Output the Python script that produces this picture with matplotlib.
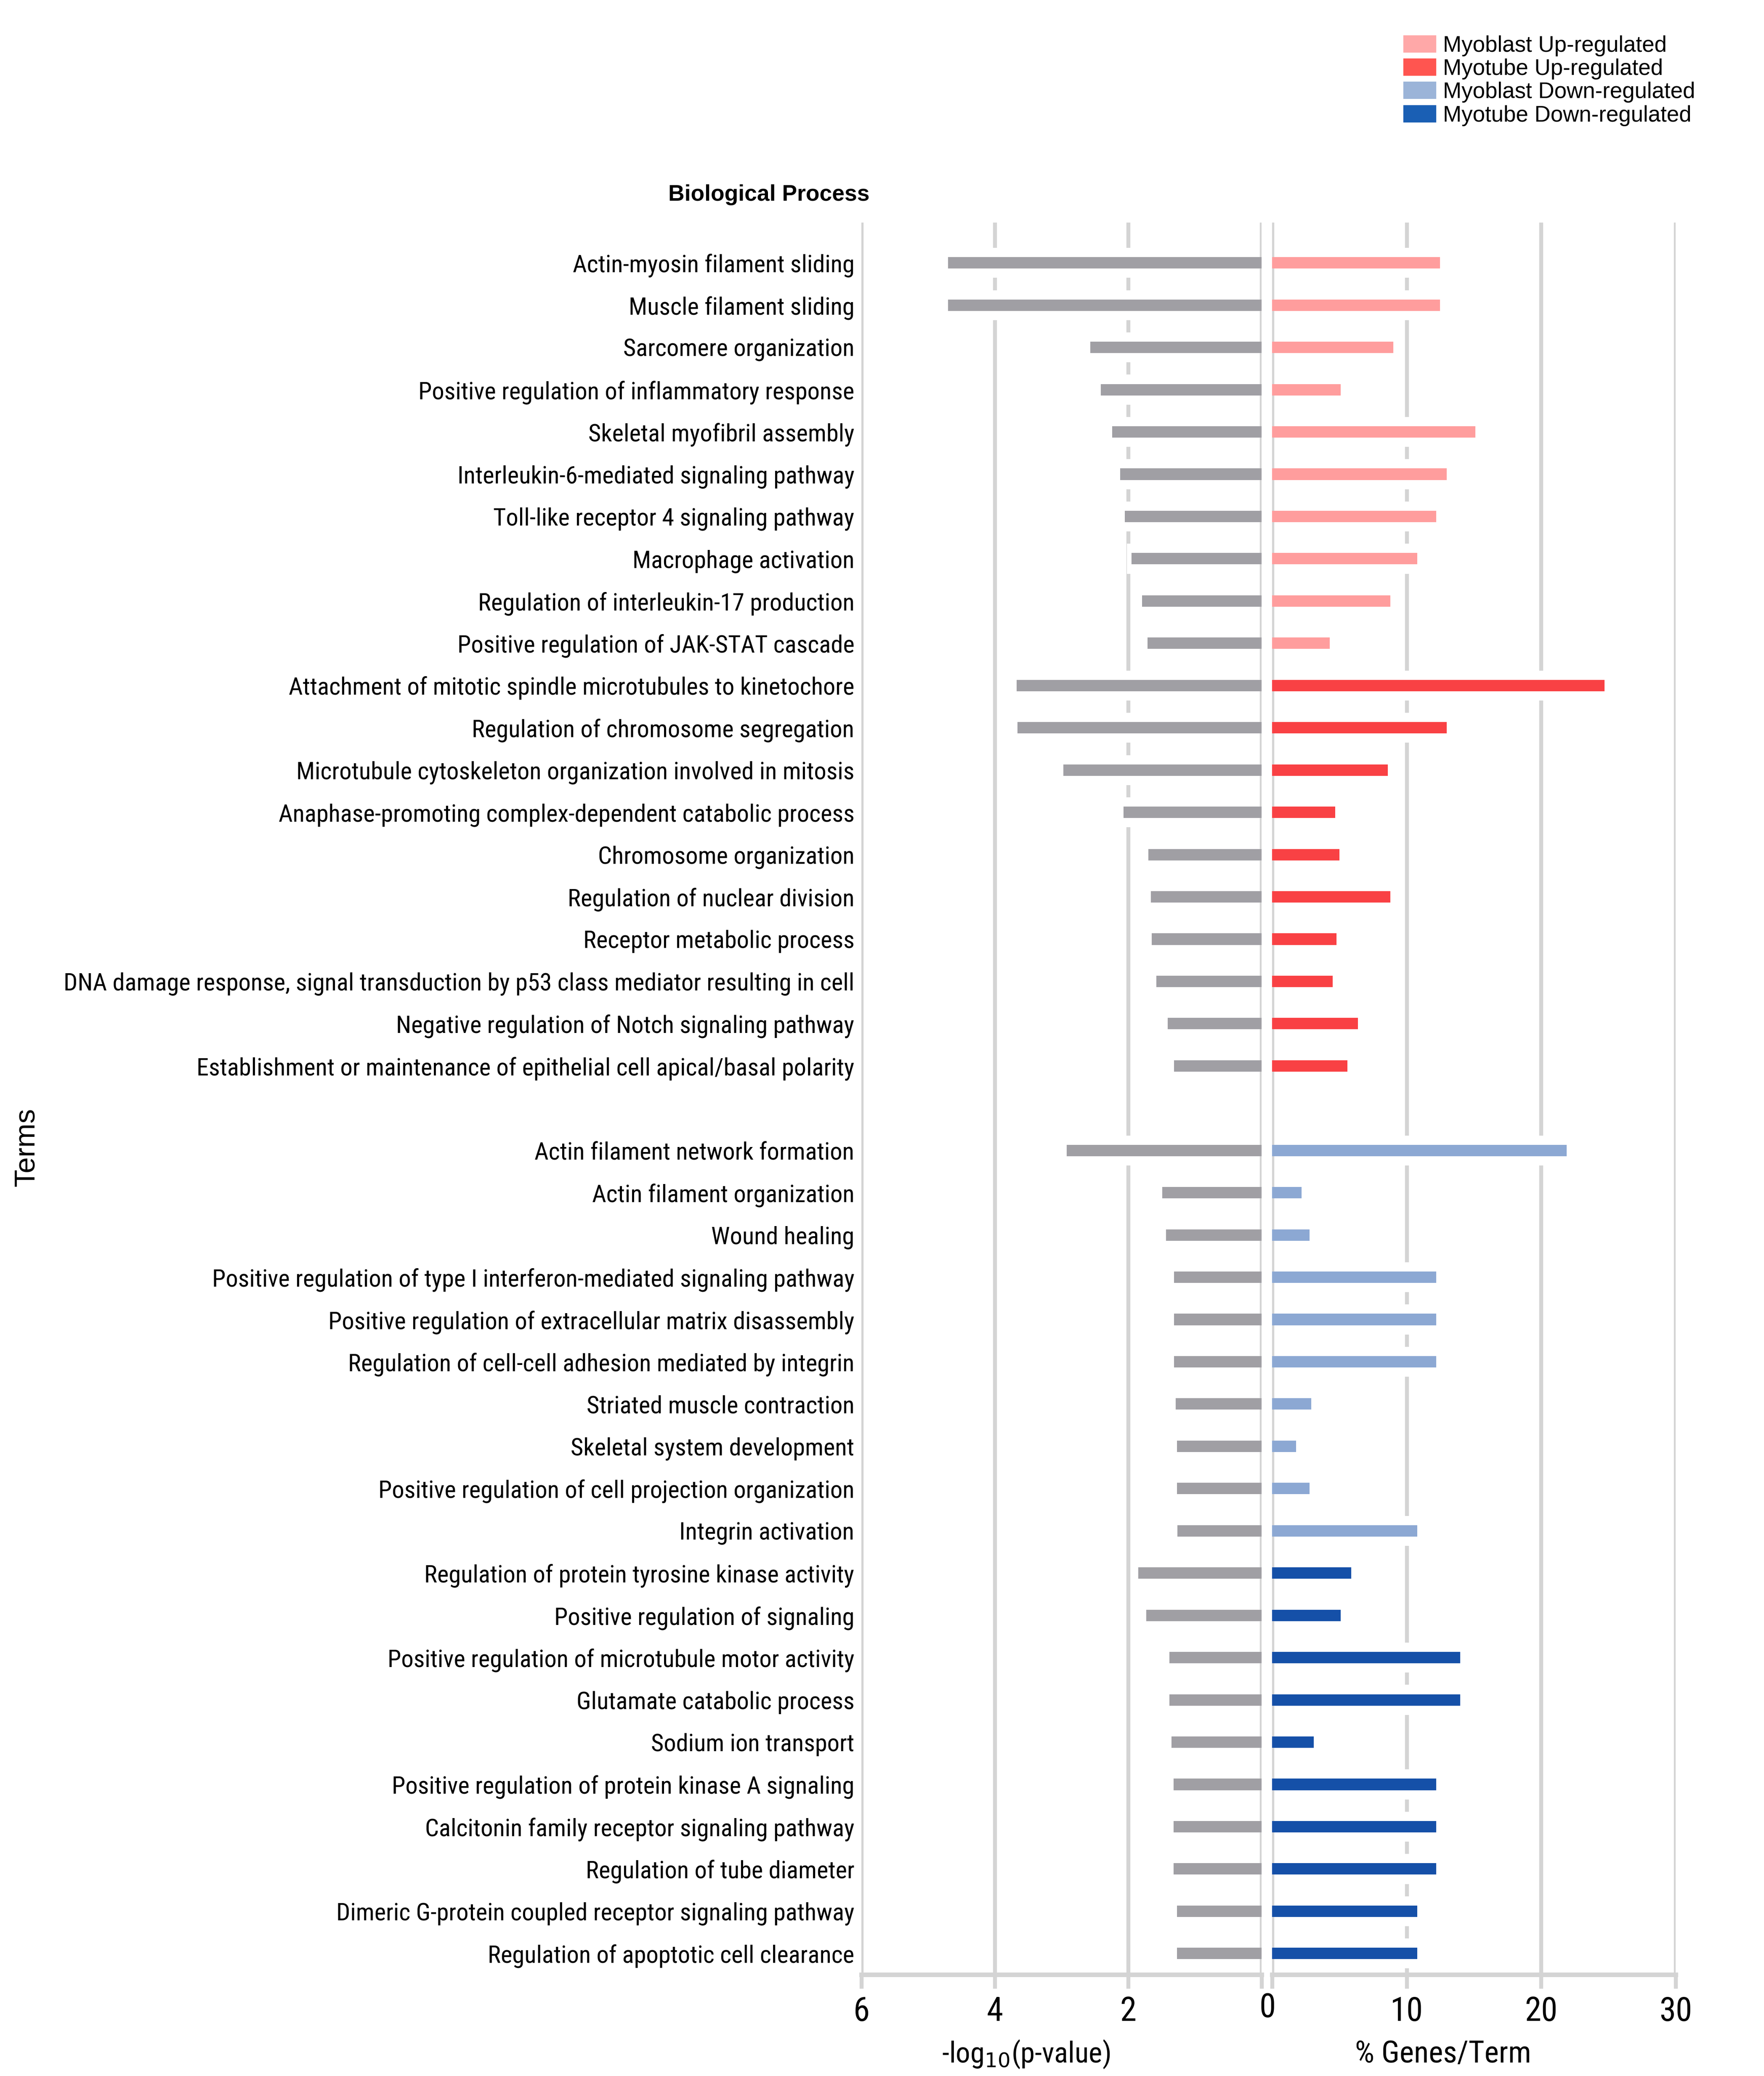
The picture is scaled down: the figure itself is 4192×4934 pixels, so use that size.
import matplotlib
matplotlib.use('Agg')
import matplotlib.pyplot as plt
from matplotlib import font_manager
from matplotlib.patches import Patch
import numpy as np

# fuentes: buscar una fuente estrecha, si no, Liberation Sans más pequeña
installed = {f.name for f in font_manager.fontManager.ttflist}
narrow = None
for n in ['Liberation Sans Narrow', 'Arial Narrow', 'Roboto Condensed']:
    if n in installed:
        narrow = n
        break
normal = 'Liberation Sans' if 'Liberation Sans' in installed else 'DejaVu Sans'
if narrow is None:
    narrow = normal
    label_size = 12.7
else:
    label_size = 14.0

terms = [
    'Actin-myosin filament sliding',
    'Muscle filament sliding',
    'Sarcomere organization',
    'Positive regulation of inflammatory response',
    'Skeletal myofibril assembly',
    'Interleukin-6-mediated signaling pathway',
    'Toll-like receptor 4 signaling pathway',
    'Macrophage activation',
    'Regulation of interleukin-17 production',
    'Positive regulation of JAK-STAT cascade',
    'Attachment of mitotic spindle microtubules to kinetochore',
    'Regulation of chromosome segregation',
    'Microtubule cytoskeleton organization involved in mitosis',
    'Anaphase-promoting complex-dependent catabolic process',
    'Chromosome organization',
    'Regulation of nuclear division',
    'Receptor metabolic process',
    'DNA damage response, signal transduction by p53 class mediator resulting in cell',
    'Negative regulation of Notch signaling pathway',
    'Establishment or maintenance of epithelial cell apical/basal polarity',
    'Actin filament network formation',
    'Actin filament organization',
    'Wound healing',
    'Positive regulation of type I interferon-mediated signaling pathway',
    'Positive regulation of extracellular matrix disassembly',
    'Regulation of cell-cell adhesion mediated by integrin',
    'Striated muscle contraction',
    'Skeletal system development',
    'Positive regulation of cell projection organization',
    'Integrin activation',
    'Regulation of protein tyrosine kinase activity',
    'Positive regulation of signaling',
    'Positive regulation of microtubule motor activity',
    'Glutamate catabolic process',
    'Sodium ion transport',
    'Positive regulation of protein kinase A signaling',
    'Calcitonin family receptor signaling pathway',
    'Regulation of tube diameter',
    'Dimeric G-protein coupled receptor signaling pathway',
    'Regulation of apoptotic cell clearance',
]

neg_log_p = [4.70, 4.70, 2.57, 2.41, 2.24, 2.12, 2.05, 1.95, 1.79, 1.71,
             3.67, 3.66, 2.97, 2.07, 1.70, 1.66, 1.65, 1.58, 1.41, 1.31,
             2.92, 1.49, 1.43, 1.31, 1.31, 1.31, 1.29, 1.27, 1.27, 1.26,
             1.85, 1.73, 1.38, 1.38, 1.35, 1.32, 1.32, 1.32, 1.27, 1.27]

pct_genes = [12.5, 12.5, 9.0, 5.1, 15.1, 13.0, 12.2, 10.8, 8.8, 4.3,
             24.7, 13.0, 8.6, 4.7, 5.0, 8.8, 4.8, 4.5, 6.4, 5.6,
             21.9, 2.2, 2.8, 12.2, 12.2, 12.2, 2.9, 1.8, 2.8, 10.8,
             5.9, 5.1, 14.0, 14.0, 3.1, 12.2, 12.2, 12.2, 10.8, 10.8]

groups = ['Myoblast Up-regulated'] * 10 + ['Myotube Up-regulated'] * 10 + \
         ['Myoblast Down-regulated'] * 10 + ['Myotube Down-regulated'] * 10

group_colors = {
    'Myoblast Up-regulated': '#FF9D9D',
    'Myotube Up-regulated': '#F94144',
    'Myoblast Down-regulated': '#8CA8D3',
    'Myotube Down-regulated': '#1550A8',
}
legend_colors = ['#FFA8A8', '#FF5550', '#9BB4D8', '#1A5FB4']

gray_bar = '#A09FA4'
grid_col = '#D4D4D4'

# posiciones (hueco entre grupos up/down)
ypos = np.array([i if i < 20 else i + 1 for i in range(len(terms))])

fig = plt.figure(figsize=(4192 / 300, 4934 / 300), dpi=300)
ax1 = fig.add_axes([0.4883, 0.04884, 0.2269, 0.8440])
ax2 = fig.add_axes([0.7211, 0.04884, 0.2288, 0.8440])

bar_h = 0.27
band_h = 0.71
lw_grid = 2.25

# panel izquierdo: -log10(p)
for x in [2, 4]:
    ax1.axvline(x, color=grid_col, lw=lw_grid, zorder=0, solid_capstyle='round')
ax1.barh(ypos, np.array(neg_log_p) + 0.07, height=band_h, color='white', zorder=1)
for x in [0, 6]:
    ax1.axvline(x, color=grid_col, lw=lw_grid, zorder=2, solid_capstyle='round')
ax1.barh(ypos, neg_log_p, height=bar_h, color=gray_bar, zorder=3)
ax1.set_xlim(6, 0)

# panel derecho: % genes
for x in [10, 20]:
    ax2.axvline(x, color=grid_col, lw=lw_grid, zorder=0, solid_capstyle='round')
ax2.barh(ypos, np.array(pct_genes) + 0.3, height=band_h, color='white', zorder=1)
for x in [0, 30]:
    ax2.axvline(x, color=grid_col, lw=lw_grid, zorder=2, solid_capstyle='round')
ax2.barh(ypos, pct_genes, height=bar_h, color=[group_colors[g] for g in groups], zorder=3)
ax2.set_xlim(0, 30)

for ax in (ax1, ax2):
    ax.set_ylim(40.5, -0.956)
    for s in ['top', 'right', 'left']:
        ax.spines[s].set_visible(False)
    ax.spines['bottom'].set_color(grid_col)
    ax.spines['bottom'].set_linewidth(2.6)
    ax.tick_params(axis='x', length=8, width=lw_grid, color=grid_col, pad=4,
                   labelsize=19)

ax1.set_xticks([6, 4, 2, 0])
ax1.set_xticklabels(['6', '4', '2', ''], family=narrow, fontsize=19)
ax2.set_xticks([0, 10, 20, 30])
ax2.set_xticklabels(['', '10', '20', '30'], family=narrow, fontsize=19)
fig.text(0.7185, 0.0328, '0', ha='center', va='center', fontsize=19, family=narrow)

ax1.set_yticks(ypos)
ax1.set_yticklabels(terms, family=narrow, fontsize=label_size)
ax1.tick_params(axis='y', length=0, pad=4)
ax2.set_yticks([])

fig.text(0.5816, 0.0105, r'-log$_{10}$(p-value)', ha='center', va='center',
         fontsize=16.5, family=narrow)
fig.text(0.8182, 0.0105, '% Genes/Term', ha='center', va='center',
         fontsize=17.5, family=narrow)
fig.text(0.015, 0.4475, 'Terms', rotation=90, ha='center', va='center',
         fontsize=16.5, family=normal)
fig.text(0.436, 0.9062, 'Biological Process', ha='center', va='center',
         fontsize=12.8, fontweight='bold', family=normal)

handles = [Patch(color=c) for c in legend_colors]
fig.legend(handles, list(group_colors.keys()), loc='upper left',
           bbox_to_anchor=(0.791, 0.9873), frameon=False, borderaxespad=0,
           handlelength=1.4, handleheight=0.7, handletextpad=0.34,
           labelspacing=0.1, prop={'family': normal, 'size': 12.7})

plt.savefig('out.png', dpi=300)
